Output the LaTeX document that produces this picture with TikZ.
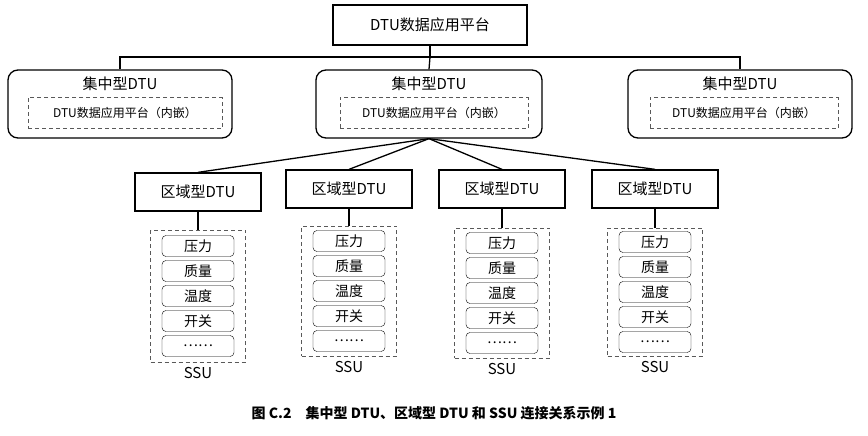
\documentclass[tikz,border=0pt]{standalone}
\usepackage{fontspec}
\setmainfont{Liberation Sans}
\newfontfamily\cjk{Noto Sans CJK SC}
\begin{document}
\begin{tikzpicture}[x=1pt,y=-1pt,
  box/.style={draw,line width=1.3pt,inner sep=0pt,font=\cjk\fontsize{15}{15}\selectfont},
  cen/.style={draw,line width=1.3pt,rounded corners=10pt,inner sep=0pt},
  inner/.style={draw,gray!70!black,dash pattern=on 4pt off 3pt,inner sep=0pt,text=black,font=\cjk\fontsize{12}{12}\selectfont},
  item/.style={draw,rounded corners=4pt,minimum width=72pt,minimum height=21pt,inner sep=0pt,font=\cjk\fontsize{14}{14}\selectfont},
  lab/.style={font=\cjk\fontsize{15}{15}\selectfont},
  line/.style={line width=1.3pt}]
\useasboundingbox (0,0) rectangle (868,436);
\node[box,minimum width=194pt,minimum height=40pt] (top) at (430,25) {DTU数据应用平台};
\foreach \n/\x/\w/\ix/\iw in {L/120/224/125/194, M/429/226/434/188, R/740/224/744/188}{
  \node[cen,minimum width=\w pt,minimum height=68pt] (c\n) at (\x,104) {};
  \node[lab] (t\n) at (\x,84) {集中型DTU};
  \node[inner,minimum width=\iw pt,minimum height=31pt] (i\n) at (\ix,113) {DTU数据应用平台（内嵌）};
}
\coordinate (j) at (430,57);
\draw[line] (top.south) -- (j);
\draw[line] (cL.north) |- (j) -| (cR.north);
\draw[line] (j) -- (cM.north);
\foreach \k/\x/\y/\sy/\sh in {1/198/192/296/132, 2/349/189/291/130, 3/502/189/293/130, 4/655/189/292/128}{
  \node[box,minimum width=126pt,minimum height=38pt] (r\k) at (\x,\y) {区域型DTU};
  \draw[line] (cM.south) -- (r\k.north);
  \node[draw,gray!70!black,dash pattern=on 4pt off 3pt,minimum width=95pt,minimum height=\sh pt,inner sep=0pt] (s\k) at (\x,\sy) {};
  \draw[line] (r\k.south) -- (s\k.north);
  \node[item] (a\k) at (\x,\sy-50) {压力};
  \node[item] (b\k) at (\x,\sy-25) {质量};
  \node[item] (c\k) at (\x,\sy) {温度};
  \node[item] (d\k) at (\x,\sy+25) {开关};
  \node[item] (e\k) at (\x,\sy+50) {……};
  \node[lab,anchor=north] (u\k) at ([yshift=-2pt]s\k.south) {SSU};
}
\node[font=\cjk\bfseries\fontsize{14}{14}\selectfont] (cap) at (434,413) {图 C.2\quad 集中型 DTU、区域型 DTU 和 SSU 连接关系示例 1};
\end{tikzpicture}
\end{document}
